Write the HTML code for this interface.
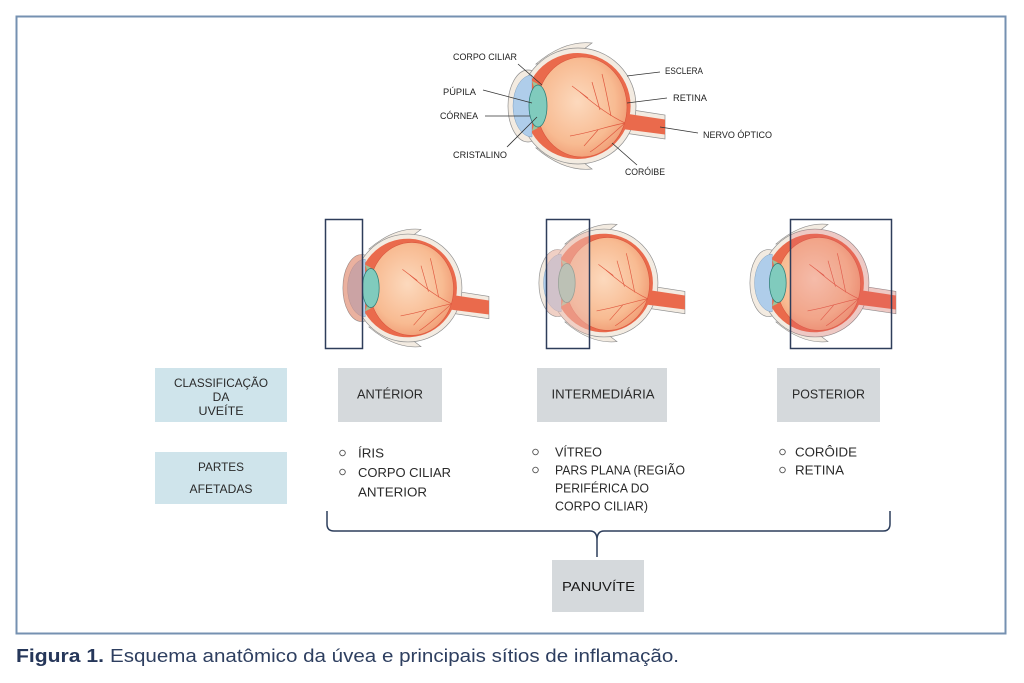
<!DOCTYPE html>
<html><head><meta charset="utf-8"><style>
html,body{margin:0;padding:0;background:#fff;}
svg{display:block;}
text{font-family:"Liberation Sans","Noto Sans CJK SC",sans-serif;}
</style></head><body>
<svg width="1024" height="683" viewBox="0 0 1024 683" xmlns="http://www.w3.org/2000/svg">
<defs>
  <radialGradient id="vit" cx="0.45" cy="0.45" r="0.6">
    <stop offset="0" stop-color="#fcd9bd"/>
    <stop offset="0.7" stop-color="#f8bb92"/>
    <stop offset="1" stop-color="#f09a73"/>
  </radialGradient>
  <clipPath id="eyeclip" clipPathUnits="userSpaceOnUse">
    <circle cx="0" cy="0" r="58"/>
    <ellipse cx="-50" cy="0" rx="20" ry="36"/>
    <path d="M50 3 L87 9 L87 33 L48 27 Z"/>
  </clipPath>
  <g id="eye">
    <!-- lid flaps -->
    <path d="M-42 -42 Q-14 -66 14 -63 L6 -57 Q-16 -58 -40 -42 Z" fill="#f3ebe1" stroke="#8f8f8f" stroke-width="0.7"/>
    <path d="M-42 42 Q-14 66 14 63 L6 57 Q-16 58 -40 42 Z" fill="#f3ebe1" stroke="#8f8f8f" stroke-width="0.7"/>
    <!-- optic nerve sheath -->
    <path d="M48 3 L87 9 L87 33 L46 27 Z" fill="#f3ebe1" stroke="#8f8f8f" stroke-width="0.7"/>
    <!-- cornea rim -->
    <ellipse cx="-50" cy="0" rx="20" ry="36" fill="#f3ebe1" stroke="#8f8f8f" stroke-width="0.7"/>
    <!-- sclera -->
    <circle cx="0" cy="0" r="58" fill="#f3ebe1" stroke="#8f8f8f" stroke-width="0.7"/>
    <!-- cornea blue -->
    <path d="M-46 -31 A19 31 0 0 0 -46 31 Z" fill="#afcdea" stroke="#7f9fbf" stroke-width="0.5"/>
    <!-- choroid/retina red -->
    <path d="M-46 -27 A53 53 0 1 1 -46 27 Z" fill="#ea6a4c"/>
    <!-- nerve red -->
    <path d="M44 7 L87 13.5 L87 28.5 L44 23 Z" fill="#ea6a4c"/>
    <!-- vitreous -->
    <ellipse cx="4" cy="1" rx="45" ry="50" fill="url(#vit)" stroke="#d9553c" stroke-width="0.6"/>
    <!-- vessels -->
    <g fill="none" stroke="#e0583f" stroke-width="0.7">
      <path d="M47 17 C32 10 18 0 2 -14"/>
      <path d="M22 4 L14 -24"/>
      <path d="M33 10 C30 -4 28 -16 24 -32"/>
      <path d="M47 17 C30 20 15 26 -8 30"/>
      <path d="M20 24 L6 40"/>
      <path d="M47 17 C32 30 22 40 12 46"/>
      <path d="M10 -8 L-6 -20"/>
    </g>
    <!-- ciliary bits -->
    <path d="M-46 -25 L-40 -22 L-44 -19 Z" fill="#9cc39a"/>
    <path d="M-46 25 L-40 22 L-44 19 Z" fill="#9cc39a"/>
    <!-- lens -->
    <ellipse cx="-40" cy="0" rx="9" ry="21" fill="#80cbbd" stroke="#2f7f78" stroke-width="0.8"/>
  </g>
</defs>

<!-- outer frame -->
<rect x="16.5" y="16.5" width="989" height="617" fill="none" stroke="#7591b1" stroke-width="2"/>

<!-- top eye -->
<use href="#eye" transform="translate(578,106)"/>
<g stroke="#333" stroke-width="0.8" fill="none">
  <line x1="518" y1="64" x2="542" y2="85"/>
  <line x1="483" y1="90" x2="532" y2="103"/>
  <line x1="485" y1="116" x2="530" y2="116"/>
  <line x1="507" y1="147" x2="537" y2="117"/>
  <line x1="660" y1="72" x2="627" y2="76"/>
  <line x1="667" y1="98" x2="627" y2="103"/>
  <line x1="698" y1="133" x2="660" y2="127"/>
  <line x1="637" y1="165" x2="612" y2="143"/>
</g>
<g font-size="9" fill="#222">
  <text x="453" y="60" textLength="64" lengthAdjust="spacingAndGlyphs">CORPO CILIAR</text>
  <text x="443" y="95" textLength="33" lengthAdjust="spacingAndGlyphs">PÚPILA</text>
  <text x="440" y="119" textLength="38" lengthAdjust="spacingAndGlyphs">CÓRNEA</text>
  <text x="453" y="158" textLength="54" lengthAdjust="spacingAndGlyphs">CRISTALINO</text>
  <text x="665" y="74" textLength="38" lengthAdjust="spacingAndGlyphs">ESCLERA</text>
  <text x="673" y="101" textLength="34" lengthAdjust="spacingAndGlyphs">RETINA</text>
  <text x="703" y="138" textLength="69" lengthAdjust="spacingAndGlyphs">NERVO ÓPTICO</text>
  <text x="625" y="175" textLength="40" lengthAdjust="spacingAndGlyphs">CORÓIBE</text>
</g>

<!-- eye 1 anterior -->
<g transform="translate(408,288) scale(0.93)">
  <use href="#eye"/>
  <rect x="-89" y="-80" width="40" height="160" fill="rgb(225,130,105)" fill-opacity="0.55" clip-path="url(#eyeclip)"/>
</g>
<rect x="325.5" y="219.5" width="37" height="129" fill="none" stroke="#2e3d5a" stroke-width="1.5"/>

<!-- eye 2 intermediate -->
<g transform="translate(604,283) scale(0.93)">
  <use href="#eye"/>
  <rect x="-62" y="-80" width="46" height="160" fill="rgb(236,185,175)" fill-opacity="0.55" clip-path="url(#eyeclip)"/>
</g>
<rect x="546.5" y="219.5" width="43" height="129" fill="none" stroke="#2e3d5a" stroke-width="1.5"/>

<!-- eye 3 posterior -->
<g transform="translate(815,283) scale(0.93)">
  <use href="#eye"/>
  <rect x="-27" y="-80" width="120" height="160" fill="rgb(225,100,110)" fill-opacity="0.25" clip-path="url(#eyeclip)"/>
</g>
<rect x="790.5" y="219.5" width="101" height="129" fill="none" stroke="#2e3d5a" stroke-width="1.5"/>

<!-- boxes -->
<rect x="155" y="368" width="132" height="54" fill="#cfe4eb"/>
<rect x="155" y="452" width="132" height="52" fill="#cfe4eb"/>
<rect x="338" y="368" width="104" height="54" fill="#d5d9dc"/>
<rect x="537" y="368" width="130" height="54" fill="#d5d9dc"/>
<rect x="777" y="368" width="103" height="54" fill="#d5d9dc"/>
<rect x="552" y="560" width="92" height="52" fill="#d5d9dc"/>

<g fill="#2a2a2a" text-anchor="middle" font-size="12">
  <text x="221" y="387" textLength="94" lengthAdjust="spacingAndGlyphs">CLASSIFICAÇÃO</text>
  <text x="221" y="401">DA</text>
  <text x="221" y="415" textLength="45" lengthAdjust="spacingAndGlyphs">UVEÍTE</text>
  <text x="221" y="471" textLength="46" lengthAdjust="spacingAndGlyphs">PARTES</text>
  <text x="221" y="493" textLength="63" lengthAdjust="spacingAndGlyphs">AFETADAS</text>
</g>
<g fill="#2a2a2a" text-anchor="middle" font-size="13">
  <text x="390" y="398.5" textLength="66" lengthAdjust="spacingAndGlyphs">ANTÉRIOR</text>
  <text x="603" y="398.5" textLength="103" lengthAdjust="spacingAndGlyphs">INTERMEDIÁRIA</text>
  <text x="828.5" y="398.5" textLength="73" lengthAdjust="spacingAndGlyphs">POSTERIOR</text>
  <text x="598.5" y="591" textLength="73" lengthAdjust="spacingAndGlyphs" fill="#1a1a1a">PANUVÍTE</text>
</g>

<!-- bullets -->
<g fill="none" stroke="#555" stroke-width="0.9">
  <circle cx="342.5" cy="453" r="2.8"/>
  <circle cx="342.5" cy="472" r="2.8"/>
  <circle cx="535.5" cy="452" r="2.8"/>
  <circle cx="535.5" cy="470" r="2.8"/>
  <circle cx="782.5" cy="452" r="2.8"/>
  <circle cx="782.5" cy="470" r="2.8"/>
</g>
<g fill="#2a2a2a" font-size="13">
  <text x="358" y="457.5" textLength="26" lengthAdjust="spacingAndGlyphs">ÍRIS</text>
  <text x="358" y="477" textLength="93" lengthAdjust="spacingAndGlyphs">CORPO CILIAR</text>
  <text x="358" y="496.5" textLength="69" lengthAdjust="spacingAndGlyphs">ANTERIOR</text>
  <text x="555" y="456.5" textLength="47" lengthAdjust="spacingAndGlyphs">VÍTREO</text>
  <text x="555" y="474.5" textLength="130" lengthAdjust="spacingAndGlyphs">PARS PLANA (REGIÃO</text>
  <text x="555" y="492.5" textLength="94" lengthAdjust="spacingAndGlyphs">PERIFÉRICA DO</text>
  <text x="555" y="510.5" textLength="93" lengthAdjust="spacingAndGlyphs">CORPO CILIAR)</text>
  <text x="795" y="456.5" textLength="62" lengthAdjust="spacingAndGlyphs">CORÔIDE</text>
  <text x="795" y="474.5" textLength="49" lengthAdjust="spacingAndGlyphs">RETINA</text>
</g>

<!-- brace -->
<path d="M327 511 L327 524 Q327 531 334 531 L590 531 Q597 531 597 540 L597 557 M597 540 Q597 531 604 531 L883 531 Q890 531 890 524 L890 511" fill="none" stroke="#2d3e5c" stroke-width="1.5"/>

<!-- caption -->
<text x="16" y="662" font-size="18" font-weight="bold" fill="#26375a" textLength="88" lengthAdjust="spacingAndGlyphs">Figura 1.</text>
<text x="110" y="662" font-size="18" fill="#2e3f60" textLength="569" lengthAdjust="spacingAndGlyphs">Esquema anatômico da úvea e principais sítios de inflamação.</text>
</svg>
</body></html>
